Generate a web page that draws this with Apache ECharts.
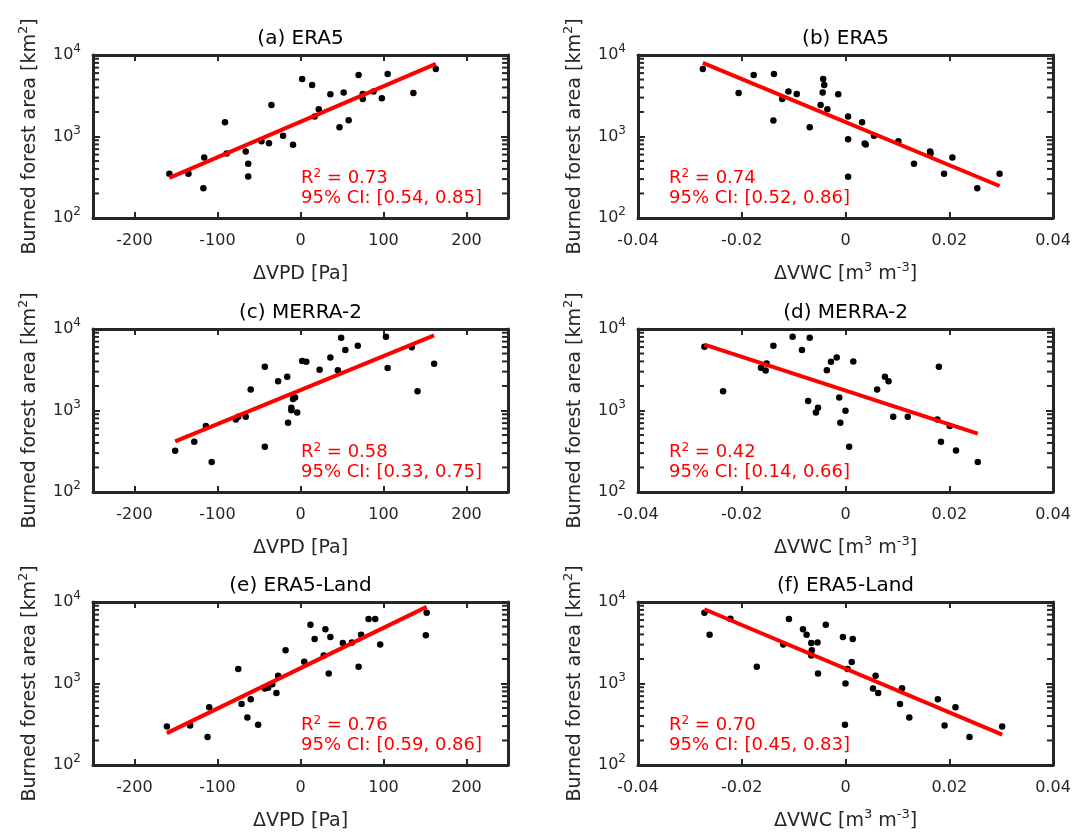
<!DOCTYPE html>
<html>
<head>
<meta charset="utf-8">
<script src="https://cdn.jsdelivr.net/npm/echarts@6/dist/echarts.min.js"></script>
<style>
html,body{margin:0;padding:0;background:#fff;}
#chart{width:1088px;height:840px;}
</style>
</head>
<body>
<div id="chart"></div>
<script>
// ---------------- data ----------------
const panelTitles = ['(a) ERA5', '(b) ERA5', '(c) MERRA-2', '(d) MERRA-2', '(e) ERA5-Land', '(f) ERA5-Land'];
const r2Values = ['0.73', '0.74', '0.58', '0.42', '0.76', '0.70'];
const ciValues = ['[0.54, 0.85]', '[0.52, 0.86]', '[0.33, 0.75]', '[0.14, 0.66]', '[0.59, 0.86]', '[0.45, 0.83]'];

const vpdTicks = [-200, -100, 0, 100, 200];
const vwcTicks = [-0.04, -0.02, 0, 0.02, 0.04];
const minorTickValues = [200, 300, 400, 500, 600, 700, 800, 900, 2000, 3000, 4000, 5000, 6000, 7000, 8000, 9000];

// (a) ERA5, ΔVPD [Pa] vs burned forest area [km²]
const aX = [-158, -135, -116, -117, -91, -89, -66, -63, -63, -47, -38, -35, -21, -9, 2, 14, 22, 17, 36, 47, 52, 58, 70, 75, 75, 88, 98, 105, 136, 163];
const aY = [349, 349, 553, 231, 1500, 619, 655, 462, 324, 877, 828, 2443, 1018, 791, 5080, 4295, 2163, 1758, 3296, 1300, 3460, 1585, 5690, 3325, 2892, 3556, 2944, 5850, 3427, 6740];
// (b) ERA5, ΔVWC
const bX = [-0.0275, -0.0206, -0.0177, -0.0138, -0.0139, -0.0122, -0.0110, -0.0094, -0.0069, -0.0048, -0.0043, -0.0041, -0.0044, -0.0035, -0.0014, 0.0005, 0.0005, 0.0005, 0.0032, 0.0037, 0.0039, 0.0055, 0.0102, 0.0132, 0.0163, 0.0164, 0.0190, 0.0206, 0.0254, 0.0297];
const bY = [6740, 3427, 5690, 5850, 1570, 2892, 3556, 3325, 1300, 2443, 5080, 4295, 3460, 2163, 3296, 1758, 927, 321, 1500, 821, 798, 1018, 877, 462, 655, 625, 349, 553, 231, 349];
// (c) MERRA-2, ΔVPD
const cX = [-151, -128, -114, -107, -78, -75, -66, -60, -43, -43, -27, -16, -15, -9, -6.5, -11, -11, -4, 2, 7, 23, 36, 45, 49, 54, 69, 103, 105, 134, 141, 161];
const cY = [320, 413, 644, 234, 778, 839, 839, 1807, 3437, 358, 2286, 2587, 708, 1386, 1440, 1083, 1005, 948, 4035, 3960, 3155, 4478, 3127, 7820, 5510, 6240, 8040, 3311, 5990, 1722, 3740];
// (d) MERRA-2, ΔVWC
const dX = [-0.0272, -0.0236, -0.0163, -0.0154, -0.0152, -0.0139, -0.0102, -0.0084, -0.0069, -0.0072, -0.0053, -0.0057, -0.0036, -0.0028, -0.0017, -0.0012, -0.0010, 0.0000, 0.0007, 0.0015, 0.0061, 0.0076, 0.0083, 0.0092, 0.0120, 0.0177, 0.0180, 0.0184, 0.0201, 0.0213, 0.0255];
const dY = [6050, 1722, 3340, 3100, 3780, 6240, 8040, 5510, 7820, 1309, 1083, 948, 3127, 3960, 4478, 1440, 708, 995, 358, 4000, 1807, 2587, 2286, 839, 839, 778, 3437, 413, 644, 323, 234];
// (e) ERA5-Land, ΔVPD
const eX = [-161, -133, -112, -110, -75, -71, -64, -60, -51, -43, -39, -34, -29, -27, -18, 4.5, 12, 17, 28, 30, 34, 36, 51, 62, 70, 73, 82, 90, 96, 151, 152];
const eY = [297, 306, 220, 511, 1503, 561, 384, 641, 312, 867, 885, 982, 767, 1244, 2553, 1849, 5250, 3525, 2198, 4642, 1327, 3733, 3147, 3177, 1607, 3955, 6170, 6170, 3000, 3918, 7380];
// (f) ERA5-Land, ΔVWC
const fX = [-0.0272, -0.0262, -0.0222, -0.0171, -0.0120, -0.0109, -0.0082, -0.0075, -0.0066, -0.0054, -0.0065, -0.0066, -0.0053, -0.0038, -0.0005, 0.0014, 0.0012, 0.0004, 0.0000, -0.0001, 0.0058, 0.0053, 0.0063, 0.0109, 0.0105, 0.0123, 0.0178, 0.0191, 0.0212, 0.0239, 0.0302];
const fY = [7380, 3955, 6227, 1607, 3000, 6170, 4642, 3955, 3147, 3177, 2553, 2198, 1327, 5250, 3733, 3525, 1832, 1503, 1000, 312, 1244, 867, 767, 875, 561, 384, 641, 306, 511, 220, 297];

const panelX = [aX, bX, cX, dX, eX, fX];
const panelY = [aY, bY, cY, dY, eY, fY];

// ---------------- layout & style ----------------
const FONT = 'DejaVu Sans';
const INK = '#262626';
const RED = '#ff0000';
const gridLefts = [93, 638];
const gridTops = [55, 329, 602];
const GW = 415, GH = 163;

function fitLogLine(xs, ys) {
  const n = xs.length;
  const ly = ys.map(v => Math.log10(v));
  const mx = xs.reduce((s, v) => s + v, 0) / n;
  const my = ly.reduce((s, v) => s + v, 0) / n;
  let sxy = 0, sxx = 0;
  for (let i = 0; i < n; i++) { sxy += (xs[i] - mx) * (ly[i] - my); sxx += (xs[i] - mx) * (xs[i] - mx); }
  const b = sxy / sxx, a = my - b * mx;
  const x0 = Math.min(...xs), x1 = Math.max(...xs);
  return [[x0, Math.pow(10, a + b * x0)], [x1, Math.pow(10, a + b * x1)]];
}

const supStyle = { fontFamily: FONT, color: INK, fontSize: 12, lineHeight: 12, verticalAlign: 'top' };

const grid = [], xAxis = [], yAxis = [], series = [], title = [];

for (let i = 0; i < 6; i++) {
  const col = i % 2, row = Math.floor(i / 2);
  const left = gridLefts[col], top = gridTops[row];
  const isVpd = col === 0;
  grid.push({ left: left, top: top, width: GW, height: GH, containLabel: false });

  const xMin = isVpd ? -250 : -0.04, xMax = isVpd ? 250 : 0.04;
  const ticks = isVpd ? vpdTicks : vwcTicks;
  const axisLineStyle = { color: INK, width: 3 };
  const tickStyle = { show: true, inside: true, length: 6, lineStyle: { color: INK, width: 2 } };

  // bottom x axis with labels
  xAxis.push({
    type: 'value', gridIndex: i, min: xMin, max: xMax, position: 'bottom',
    splitLine: { show: false },
    axisLine: { show: true, onZero: false, lineStyle: axisLineStyle },
    axisTick: Object.assign({ customValues: ticks }, tickStyle),
    axisLabel: {
      customValues: ticks, margin: 15, fontFamily: FONT, fontSize: 16, color: INK,
      formatter: v => String(Math.round(v * 10000) / 10000)
    },
    name: isVpd ? '{m|ΔVPD [Pa]}' : '{m|ΔVWC [m}{sup|3}{m| m}{sup|-3}{m|]}',
    nameLocation: 'middle', nameGap: 43,
    nameTextStyle: {
      fontFamily: FONT, fontSize: 19, color: INK, lineHeight: 26,
      rich: { m: { fontFamily: FONT, fontSize: 19, color: INK, lineHeight: 26 }, sup: { fontFamily: FONT, fontSize: 13, color: INK, lineHeight: 13, verticalAlign: 'top' } }
    }
  });
  // top x axis (box + ticks)
  xAxis.push({
    type: 'value', gridIndex: i, min: xMin, max: xMax, position: 'top',
    splitLine: { show: false },
    axisLine: { show: true, onZero: false, lineStyle: axisLineStyle },
    axisTick: Object.assign({ customValues: ticks }, tickStyle),
    axisLabel: { show: false, customValues: ticks }
  });
  // left log y axis with labels
  yAxis.push({
    type: 'log', logBase: 10, gridIndex: i, min: 100, max: 10000, position: 'left',
    splitLine: { show: false },
    axisLine: { show: true, onZero: false, lineStyle: axisLineStyle },
    axisTick: Object.assign({}, tickStyle, { length: 7 }),
    axisLabel: {
      margin: 12, fontFamily: FONT, fontSize: 16, color: INK,
      formatter: v => '{b|10}{sup|' + Math.round(Math.log10(v)) + '}',
      rich: { b: { fontFamily: FONT, fontSize: 16, color: INK, lineHeight: 24 }, sup: supStyle }
    },
    name: '{m|Burned forest area [km}{sup|2}{m|]}',
    nameLocation: 'middle', nameGap: 50,
    nameTextStyle: {
      fontFamily: FONT, fontSize: 19, color: INK, lineHeight: 26,
      rich: { m: { fontFamily: FONT, fontSize: 19, color: INK, lineHeight: 26 }, sup: { fontFamily: FONT, fontSize: 13, color: INK, lineHeight: 13, verticalAlign: 'top' } }
    }
  });
  // right log y axis (box + ticks)
  yAxis.push({
    type: 'log', logBase: 10, gridIndex: i, min: 100, max: 10000, position: 'right',
    splitLine: { show: false },
    axisLine: { show: true, onZero: false, lineStyle: axisLineStyle },
    axisTick: Object.assign({}, tickStyle, { length: 7 }),
    axisLabel: { show: false }
  });

  const xs = panelX[i], ys = panelY[i];
  series.push({
    type: 'scatter', xAxisIndex: 2 * i, yAxisIndex: 2 * i,
    data: xs.map((x, k) => [x, ys[k]]),
    symbol: 'circle', symbolSize: 6.5, itemStyle: { color: '#000', opacity: 1 },
    silent: true, z: 3
  });
  series.push({
    type: 'line', xAxisIndex: 2 * i, yAxisIndex: 2 * i,
    data: fitLogLine(xs, ys), showSymbol: false, symbol: 'none',
    lineStyle: { color: RED, width: 4, opacity: 1 }, silent: true, z: 4
  });

  // panel title
  title.push({
    text: panelTitles[i], left: left + GW / 2, top: top - 26, textAlign: 'center', padding: 0,
    textStyle: { fontFamily: FONT, fontSize: 20, fontWeight: 'normal', color: '#000' }
  });
  // R² annotation
  title.push({
    text: '{m|R}{s|2}{m| = ' + r2Values[i] + '}\n{m|95% CI: ' + ciValues[i] + '}',
    left: left + (isVpd ? 208 : 31), top: top + GH - 50, padding: 0,
    textStyle: {
      fontFamily: FONT, fontSize: 18, fontWeight: 'normal', color: RED, lineHeight: 20,
      rich: {
        m: { fontFamily: FONT, fontSize: 18, color: RED, lineHeight: 20 },
        s: { fontFamily: FONT, fontSize: 12, color: RED, lineHeight: 10, verticalAlign: 'top' }
      }
    }
  });
}

const chart = echarts.init(document.getElementById('chart'), null, { renderer: 'canvas' });
chart.setOption({
  backgroundColor: '#ffffff',
  animation: false,
  title: title,
  grid: grid,
  xAxis: xAxis,
  yAxis: yAxis,
  series: series
});

// minor log ticks (2..9 x 10^n) on both box edges, positioned through the log axis scale
const minorGraphics = [];
for (let i = 0; i < 6; i++) {
  const col = i % 2;
  const gl = gridLefts[col];
  const gr = gl + GW;
  minorTickValues.forEach(v => {
    let y = chart.convertToPixel({ yAxisIndex: 2 * i }, v);
    if (Array.isArray(y)) y = y[1];
    if (typeof y !== 'number' || isNaN(y)) return;
    minorGraphics.push({ type: 'line', silent: true, z: 50, shape: { x1: gl, y1: y, x2: gl + 6, y2: y }, style: { stroke: INK, lineWidth: 2 } });
    minorGraphics.push({ type: 'line', silent: true, z: 50, shape: { x1: gr, y1: y, x2: gr - 6, y2: y }, style: { stroke: INK, lineWidth: 2 } });
  });
}
chart.setOption({ graphic: { elements: minorGraphics } });
</script>
</body>
</html>
